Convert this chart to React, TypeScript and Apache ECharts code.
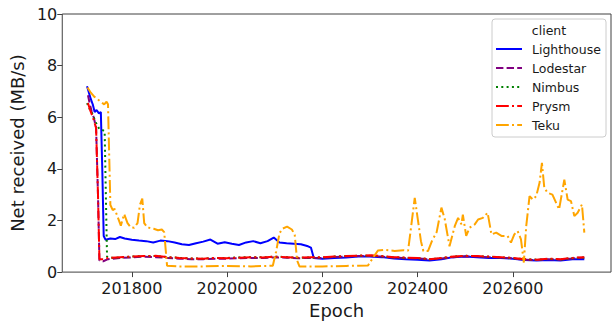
import React, { useEffect, useRef } from "react";
import * as echarts from "echarts";

const clients = ["Lighthouse", "Lodestar", "Nimbus", "Prysm", "Teku"];
const xTicks = [201800, 202000, 202200, 202400, 202600];
const yTicks = [0, 2, 4, 6, 8, 10];

const lighthouse: [number, number][] = [
  [201706, 7.2], [201710, 6.95], [201714, 6.7], [201718, 6.5], [201722, 6.2], [201726, 6.28],
  [201731, 6.15], [201735, 6.2], [201738, 4.0], [201741, 1.4], [201745, 1.25], [201755, 1.3],
  [201765, 1.28], [201775, 1.36], [201785, 1.3], [201800, 1.25], [201815, 1.22], [201830, 1.2],
  [201845, 1.15], [201860, 1.22], [201875, 1.2], [201890, 1.15], [201905, 1.08], [201920, 1.05],
  [201935, 1.12], [201950, 1.18], [201965, 1.26], [201980, 1.1], [201995, 1.16], [202010, 1.1],
  [202025, 1.05], [202040, 1.15], [202055, 1.2], [202070, 1.12], [202085, 1.2], [202098, 1.34],
  [202110, 1.15], [202125, 1.12], [202140, 1.1], [202155, 1.08], [202170, 1.0], [202176, 0.95],
  [202182, 0.55], [202200, 0.52], [202225, 0.55], [202250, 0.57], [202275, 0.6], [202300, 0.6],
  [202325, 0.58], [202350, 0.53], [202375, 0.5], [202400, 0.48], [202425, 0.45], [202450, 0.5],
  [202475, 0.58], [202500, 0.6], [202525, 0.58], [202550, 0.55], [202575, 0.55], [202600, 0.52],
  [202625, 0.47], [202650, 0.45], [202675, 0.47], [202700, 0.45], [202725, 0.5], [202750, 0.5],
];

const lodestar: [number, number][] = [
  [201708, 6.85], [201712, 6.5], [201716, 6.2], [201720, 6.0], [201725, 5.6], [201729, 3.0],
  [201732, 0.45], [201740, 0.42], [201750, 0.5], [201775, 0.55], [201800, 0.57], [201825, 0.6],
  [201850, 0.58], [201875, 0.55], [201900, 0.52], [201925, 0.5], [201950, 0.5], [201975, 0.52],
  [202000, 0.52], [202025, 0.54], [202050, 0.55], [202075, 0.55], [202100, 0.57], [202125, 0.56],
  [202150, 0.54], [202175, 0.55], [202200, 0.55], [202225, 0.58], [202250, 0.6], [202275, 0.62],
  [202300, 0.62], [202325, 0.6], [202350, 0.56], [202375, 0.54], [202400, 0.53], [202425, 0.49],
  [202450, 0.53], [202475, 0.58], [202500, 0.61], [202525, 0.6], [202550, 0.58], [202575, 0.56],
  [202600, 0.53], [202625, 0.48], [202650, 0.47], [202675, 0.5], [202700, 0.48], [202725, 0.53],
  [202750, 0.56],
];

const nimbus: [number, number][] = [
  [201706, 6.55], [201712, 6.3], [201718, 6.1], [201722, 5.9], [201727, 5.7], [201732, 5.54],
  [201739, 5.5], [201743, 5.45], [201746, 2.5], [201748, 0.6], [201760, 0.55], [201775, 0.57],
  [201800, 0.6], [201825, 0.62], [201850, 0.62], [201875, 0.58], [201900, 0.55], [201925, 0.53],
  [201950, 0.52], [201975, 0.55], [202000, 0.55], [202025, 0.57], [202050, 0.58], [202075, 0.57],
  [202100, 0.6], [202125, 0.58], [202150, 0.55], [202175, 0.57], [202200, 0.56], [202225, 0.6],
  [202250, 0.62], [202275, 0.63], [202300, 0.64], [202325, 0.61], [202350, 0.57], [202375, 0.55],
  [202400, 0.54], [202425, 0.5], [202450, 0.54], [202475, 0.6], [202500, 0.63], [202525, 0.62],
  [202550, 0.59], [202575, 0.57], [202600, 0.54], [202625, 0.5], [202650, 0.48], [202675, 0.51],
  [202700, 0.49], [202725, 0.54], [202750, 0.57],
];

const prysm: [number, number][] = [
  [201708, 6.55], [201712, 6.3], [201716, 6.1], [201720, 5.9], [201725, 5.58], [201729, 3.0],
  [201732, 0.5], [201740, 0.5], [201750, 0.55], [201775, 0.58], [201800, 0.6], [201825, 0.62],
  [201850, 0.63], [201875, 0.58], [201900, 0.55], [201925, 0.53], [201950, 0.52], [201975, 0.55],
  [202000, 0.54], [202025, 0.56], [202050, 0.58], [202075, 0.57], [202100, 0.6], [202125, 0.58],
  [202150, 0.56], [202175, 0.58], [202200, 0.57], [202225, 0.6], [202250, 0.62], [202275, 0.64],
  [202300, 0.65], [202325, 0.62], [202350, 0.58], [202375, 0.56], [202400, 0.55], [202425, 0.5],
  [202450, 0.55], [202475, 0.6], [202500, 0.63], [202525, 0.62], [202550, 0.6], [202575, 0.58],
  [202600, 0.55], [202625, 0.5], [202650, 0.48], [202675, 0.52], [202700, 0.5], [202725, 0.55],
  [202750, 0.58],
];

const teku: [number, number][] = [
  [201707, 7.15], [201714, 6.95], [201721, 6.8], [201728, 6.7], [201735, 6.6], [201742, 6.5],
  [201747, 6.6], [201750, 6.5], [201755, 2.6], [201760, 2.4], [201764, 2.45], [201770, 2.15],
  [201777, 1.8], [201784, 2.25], [201791, 1.9], [201798, 1.73], [201805, 1.72], [201812, 1.9],
  [201817, 2.6], [201822, 2.85], [201826, 1.9], [201833, 1.73], [201846, 1.68], [201855, 1.62],
  [201863, 1.65], [201868, 1.55], [201874, 0.25], [201900, 0.22], [201950, 0.22], [202000, 0.24],
  [202050, 0.22], [202096, 0.25], [202103, 0.8], [202110, 1.5], [202116, 1.68], [202126, 1.76],
  [202136, 1.65], [202142, 1.45], [202147, 0.45], [202152, 0.22], [202200, 0.22], [202250, 0.24],
  [202296, 0.26], [202306, 0.55], [202317, 0.84], [202331, 0.86], [202352, 0.82], [202370, 0.85],
  [202380, 0.83], [202386, 1.7], [202394, 2.88], [202400, 2.1], [202407, 1.2], [202412, 0.82],
  [202422, 0.82], [202430, 1.2], [202440, 1.55], [202450, 2.5], [202457, 2.05], [202467, 1.0],
  [202478, 1.78], [202485, 2.1], [202492, 1.85], [202495, 2.23], [202502, 1.4], [202509, 1.72],
  [202520, 1.85], [202527, 2.04], [202537, 2.1], [202547, 2.3], [202555, 1.46], [202565, 1.53],
  [202576, 1.4], [202589, 1.4], [202596, 1.14], [202603, 1.46], [202610, 1.59], [202617, 1.27],
  [202623, 0.37], [202628, 1.78], [202635, 2.94], [202642, 2.81], [202649, 2.94], [202656, 3.46],
  [202661, 4.23], [202666, 3.26], [202673, 3.07], [202683, 3.0], [202697, 2.43], [202708, 3.58],
  [202715, 2.81], [202722, 2.75], [202729, 2.17], [202736, 2.3], [202745, 2.62], [202750, 1.53],
];

const seriesData = [lighthouse, lodestar, nimbus, prysm, teku];
const colors = ["#0000ff", "#800080", "#008000", "#ff0000", "#ffa500"];
const LW = 2;
const dashes: (number[] | "solid")[] = [
  "solid",
  [7.4, 3.2],
  [2, 3.3],
  [12.8, 3.2, 2, 3.2],
  [12.8, 3.2, 2, 3.2],
];

const FONT = "DejaVu Sans";

export default function App() {
  const ref = useRef<HTMLDivElement>(null);
  useEffect(() => {
    document.body.style.margin = "0";
    if (!ref.current) return;
    const chart = echarts.init(ref.current, null, { renderer: "svg" });

    const legendX = 492;
    const legendY = 19;
    const legendGraphics: any[] = [
      {
        type: "rect",
        shape: { x: legendX, y: legendY, width: 114, height: 118, r: 3 },
        style: { fill: "rgba(255,255,255,0.8)", stroke: "#cccccc", lineWidth: 1 },
        z: 100,
      },
      {
        type: "text",
        x: 549,
        y: 30,
        style: {
          text: "client",
          font: `12.5px '${FONT}'`,
          fill: "#1a1a1a",
          textAlign: "center",
          textVerticalAlign: "middle",
        },
        z: 101,
      },
    ];
    clients.forEach((name, i) => {
      const cy = 49 + i * 19;
      legendGraphics.push({
        type: "line",
        shape: { x1: 496, y1: cy, x2: 522, y2: cy },
        style: {
          stroke: colors[i],
          lineWidth: LW,
          lineDash: dashes[i] === "solid" ? null : (dashes[i] as number[]),
        },
        z: 101,
      });
      legendGraphics.push({
        type: "text",
        x: 532,
        y: cy,
        style: {
          text: name,
          font: `12.5px '${FONT}'`,
          fill: "#1a1a1a",
          textAlign: "left",
          textVerticalAlign: "middle",
        },
        z: 101,
      });
    });

    chart.setOption({
      animation: false,
      backgroundColor: "#ffffff",
      textStyle: { fontFamily: FONT },
      grid: {
        left: 62,
        right: 1,
        top: 14,
        bottom: 51,
        show: true,
        borderColor: "#404040",
        borderWidth: 1,
        backgroundColor: "transparent",
      },
      xAxis: {
        type: "value",
        min: 201654,
        max: 202806,
        name: "Epoch",
        nameLocation: "middle",
        nameGap: 27,
        nameTextStyle: { fontSize: 18, color: "#1a1a1a", fontFamily: FONT },
        axisLine: { show: false },
        axisTick: {
          show: true,
          length: 5,
          lineStyle: { color: "#404040" },
          customValues: xTicks,
        },
        axisLabel: {
          fontSize: 16,
          color: "#1a1a1a",
          fontFamily: FONT,
          margin: 8,
          customValues: xTicks,
          formatter: (v: number) => String(v),
        },
        splitLine: { show: false },
      },
      yAxis: {
        type: "value",
        min: 0,
        max: 10,
        interval: 2,
        name: "Net received (MB/s)",
        nameLocation: "middle",
        nameGap: 32,
        nameRotate: 90,
        nameTextStyle: { fontSize: 18, color: "#1a1a1a", fontFamily: FONT },
        axisLine: { show: false },
        axisTick: {
          show: true,
          length: 5,
          lineStyle: { color: "#404040" },
          customValues: yTicks,
        },
        axisLabel: {
          fontSize: 16,
          color: "#1a1a1a",
          fontFamily: FONT,
          margin: 5,
          customValues: yTicks,
        },
        splitLine: { show: false },
      },
      series: clients.map((name, i) => ({
        name,
        type: "line",
        data: seriesData[i],
        showSymbol: false,
        symbol: "none",
        lineStyle: { color: colors[i], width: LW, type: dashes[i] },
        itemStyle: { color: colors[i] },
        z: 2 + i,
      })),
      graphic: legendGraphics,
    });
    return () => chart.dispose();
  }, []);
  return <div ref={ref} style={{ width: 612, height: 324 }} />;
}
